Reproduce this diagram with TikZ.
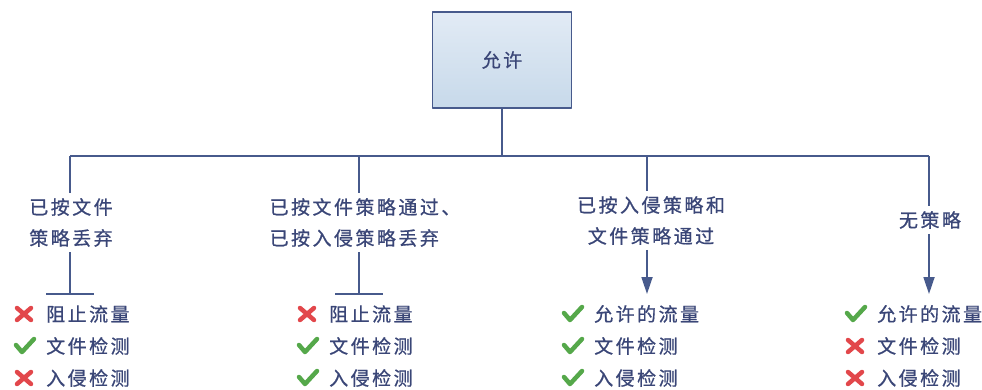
\documentclass[tikz,border=0pt]{standalone}
\usepackage{fontspec}
\setmainfont[LetterSpace=13, FakeBold=0.8]{Noto Sans CJK SC}
\usetikzlibrary{arrows.meta}
\definecolor{navy}{HTML}{3A4677}
\definecolor{lineblue}{HTML}{475A8C}
\definecolor{boxtop}{HTML}{E2EBF5}
\definecolor{boxbot}{HTML}{C7D9EA}
\definecolor{okgreen}{HTML}{55A84A}
\definecolor{nored}{HTML}{E2474B}
\tikzset{
  yes/.pic={\draw[okgreen, line width=4.5pt, line join=round, line cap=round] (-8,-1)--(-2,6)--(10,-7);},
  no/.pic={\draw[nored, line width=4.5pt, line cap=round] (-7,-6)--(7,6) (-7,6)--(7,-6);}
}
\begin{document}
\begin{tikzpicture}[x=1pt, y=-1pt, line join=round, font=\fontsize{19}{31}\selectfont, text=navy,
	wire/.style={draw=lineblue, line width=1.8pt},
	tip/.style={-{Triangle[width=11pt,length=17pt]}},
	lbl/.style={inner xsep=0pt, inner ysep=5pt},
	item/.style={anchor=west, inner sep=0pt}]
	\useasboundingbox (0,0) rectangle (982,390);
	\node[draw=lineblue, line width=1.8pt, top color=boxtop, bottom color=boxbot,
		minimum width=139pt, minimum height=96pt, inner sep=0pt] (allow) at (502,60) {允许};
	\path (allow.south) ++(0,48) coordinate (bus);
	\foreach \n/\x in {1/70,2/359,3/647,4/929}{
		\path (\x,156) coordinate (b\n) (\x,294) coordinate (t\n);
	}
	\node[lbl, align=center] (l1) at (71,222.5) {已按文件\\策略丢弃};
	\node[lbl, align=left] (l2) at (365,222.5) {已按文件策略通过、\\已按入侵策略丢弃};
	\node[lbl, align=center] (l3) at (651,220.5) {已按入侵策略和\\文件策略通过};
	\node[lbl] (l4) at (930,220) {无策略};
	\draw[wire] (allow) -- (bus) (b1) -- (b4);
	\foreach \n in {1,...,4}
		\draw[wire] (b\n) -- (b\n |- l\n.north);
	\foreach \n in {1,2}
		\draw[wire] (b\n |- l\n.south) -- (t\n) ++(-24,0) -- ++(48,0);
	\foreach \n in {3,4}
		\draw[wire, tip] (b\n |- l\n.south) -- (t\n);
	\foreach \x/\a/\b/\c/\txt [count=\n] in {24/no/yes/no/阻止流量, 307/no/yes/yes/阻止流量,
			572/yes/yes/yes/允许的流量, 855/yes/no/no/允许的流量}{
		\pic at (\x,314) {\a};
		\pic at (\x,346) {\b};
		\pic at (\x,378) {\c};
		\node[item] (r\n-1) at (\x+22,314) {\txt};
		\node[item] (r\n-2) at (\x+22,346) {文件检测};
		\node[item] (r\n-3) at (\x+22,378) {入侵检测};
	}
\end{tikzpicture}
\end{document}
